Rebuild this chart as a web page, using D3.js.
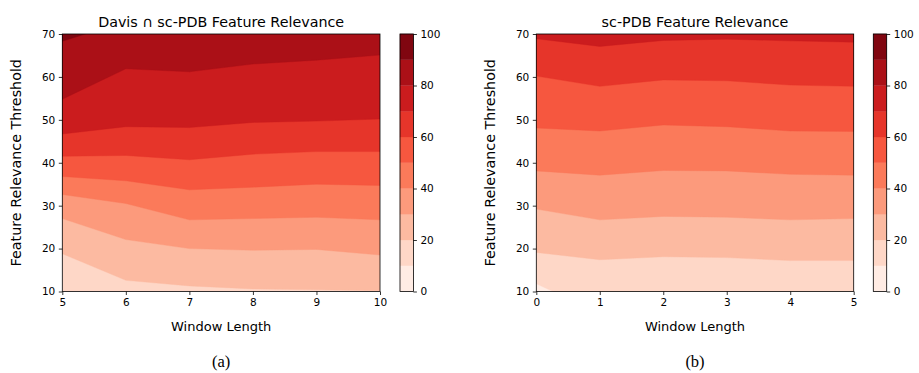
<!DOCTYPE html>
<html>
<head>
<meta charset="utf-8">
<script src="https://cdn.jsdelivr.net/npm/d3@7"></script>
<style>
  body { margin: 0; background: #fff; }
  svg { display: block; }
  text { font-family: "DejaVu Sans", sans-serif; fill: #000; }
</style>
</head>
<body>
<svg id="chart" width="919" height="373"></svg>
<script>
// contour levels shared by both panels
const levels = d3.range(0, 101, 10)
const colorbarTicks = [0, 20, 40, 60, 80, 100]
const thresholdTicks = [10, 20, 30, 40, 50, 60, 70]

// (a) Davis ∩ sc-PDB: threshold where the relevance crosses each level, per window length
const davisWindows = [5, 6, 7, 8, 9, 10]
const davisLevels = [20, 30, 40, 50, 60, 70, 80, 90]
const davisBoundaries = [
  [18.8, 12.6, 11.3, 10.6, 10.4, 10.2],
  [27.0, 22.1, 20.0, 19.6, 19.8, 18.5],
  [32.6, 30.5, 26.7, 27.0, 27.3, 26.7],
  [36.8, 35.8, 33.7, 34.3, 35.0, 34.7],
  [41.5, 41.7, 40.7, 42.0, 42.6, 42.6],
  [46.7, 48.4, 48.2, 49.4, 49.7, 50.2],
  [54.8, 61.9, 61.2, 63.0, 63.9, 65.1],
  [68.3, 73.0, 75.0, 75.0, 75.0, 75.0], // leaves the plotted range after x≈5.4
]

// (b) sc-PDB
const scpdbWindows = [0, 1, 2, 3, 4, 5]
const scpdbLevels = [10, 20, 30, 40, 50, 60, 70]
const scpdbBoundaries = [
  [11.8, 5.0, 5.0, 5.0, 5.0, 5.0], // dips below 10 after x≈0.3
  [19.1, 17.4, 18.1, 17.9, 17.2, 17.2],
  [29.2, 26.7, 27.5, 27.3, 26.7, 27.0],
  [38.1, 37.1, 38.2, 38.1, 37.3, 37.1],
  [48.1, 47.4, 48.8, 48.4, 47.4, 47.3],
  [60.2, 57.8, 59.3, 59.1, 58.1, 57.8],
  [68.9, 67.1, 68.5, 68.8, 68.4, 68.1],
]

const bandColor = (lo) => d3.interpolateReds((lo + 5) / 100)

const svg = d3.select("#chart")

function drawPanel(cfg) {
  const { id, left, right, top, bottom, cbLeft, title, windows, baseLevel, bandLevels, bounds, ylabelX, caption } = cfg

  const x = d3.scaleLinear().domain(d3.extent(windows)).range([left, right])
  const y = d3.scaleLinear().domain([10, 70]).range([bottom, top])

  svg.append("clipPath").attr("id", "clip-" + id)
    .append("rect")
    .attr("x", left).attr("y", top)
    .attr("width", right - left).attr("height", bottom - top)

  const plot = svg.append("g").attr("clip-path", `url(#clip-${id})`)

  // lowest band fills everything, higher bands painted on top
  plot.append("rect")
    .attr("x", left).attr("y", top)
    .attr("width", right - left).attr("height", bottom - top)
    .attr("fill", bandColor(baseLevel))

  const area = d3.area()
    .x((d, j) => x(windows[j]))
    .y0((d) => y(d))
    .y1(y(80))

  plot.selectAll("path.band")
    .data(bounds)
    .join("path")
    .attr("class", "band")
    .attr("d", (b) => area(b))
    .attr("fill", (b, i) => bandColor(bandLevels[i]))
    .attr("stroke", (b, i) => bandColor(bandLevels[i]))
    .attr("stroke-width", 0.4)

  // axes
  const xAxis = svg.append("g")
    .attr("transform", `translate(0,${bottom})`)
    .call(d3.axisBottom(x).tickValues(windows).tickFormat(d3.format("d")).tickSize(3.5).tickPadding(3.5))
  const yAxis = svg.append("g")
    .attr("transform", `translate(${left},0)`)
    .call(d3.axisLeft(y).tickValues(thresholdTicks).tickSize(3.5).tickPadding(3.5))
  for (const a of [xAxis, yAxis]) {
    a.select(".domain").remove()
    a.selectAll("line").attr("stroke", "#000").attr("stroke-width", 0.8)
    a.selectAll("text").attr("font-size", "10.5px").attr("font-family", "DejaVu Sans")
  }

  svg.append("rect")
    .attr("x", left).attr("y", top)
    .attr("width", right - left).attr("height", bottom - top)
    .attr("fill", "none").attr("stroke", "#000").attr("stroke-width", 0.8)

  // colorbar
  const cbW = 13.4
  const c = d3.scaleLinear().domain([0, 100]).range([bottom, top])
  svg.append("g").selectAll("rect")
    .data(levels.slice(0, -1))
    .join("rect")
    .attr("x", cbLeft)
    .attr("y", (d) => c(d + 10))
    .attr("width", cbW)
    .attr("height", (d) => c(d) - c(d + 10))
    .attr("fill", (d) => bandColor(d))
    .attr("stroke", (d) => bandColor(d))
    .attr("stroke-width", 0.3)
  const cAxis = svg.append("g")
    .attr("transform", `translate(${cbLeft + cbW},0)`)
    .call(d3.axisRight(c).tickValues(colorbarTicks).tickSize(3.5).tickPadding(3.5))
  cAxis.select(".domain").remove()
  cAxis.selectAll("line").attr("stroke", "#000").attr("stroke-width", 0.8)
  cAxis.selectAll("text").attr("font-size", "10.5px").attr("font-family", "DejaVu Sans")
  svg.append("rect")
    .attr("x", cbLeft).attr("y", top)
    .attr("width", cbW).attr("height", bottom - top)
    .attr("fill", "none").attr("stroke", "#000").attr("stroke-width", 0.8)

  // text
  svg.append("text")
    .attr("x", (left + right) / 2).attr("y", 26.5)
    .attr("text-anchor", "middle").attr("font-size", "14.3px")
    .text(title)
  svg.append("text")
    .attr("x", (left + right) / 2).attr("y", 331)
    .attr("text-anchor", "middle").attr("font-size", "13px")
    .text("Window Length")
  svg.append("text")
    .attr("transform", `translate(${ylabelX},${(top + bottom) / 2}) rotate(-90)`)
    .attr("text-anchor", "middle").attr("font-size", "14.3px")
    .text("Feature Relevance Threshold")
  svg.append("text")
    .attr("x", (left + right) / 2).attr("y", 367)
    .attr("text-anchor", "middle")
    .style("font-family", "'Liberation Serif', serif").attr("font-size", "16.5px")
    .text(caption)
}

drawPanel({
  id: "a", left: 62.3, right: 380, top: 34, bottom: 291.5, cbLeft: 400,
  title: "Davis ∩ sc-PDB Feature Relevance",
  windows: davisWindows, baseLevel: 10, bandLevels: davisLevels, bounds: davisBoundaries,
  ylabelX: 21, caption: "(a)",
})

drawPanel({
  id: "b", left: 536.3, right: 853.7, top: 34, bottom: 291.5, cbLeft: 873.3,
  title: "sc-PDB Feature Relevance",
  windows: scpdbWindows, baseLevel: 0, bandLevels: scpdbLevels, bounds: scpdbBoundaries,
  ylabelX: 495, caption: "(b)",
})
</script>
</body>
</html>
